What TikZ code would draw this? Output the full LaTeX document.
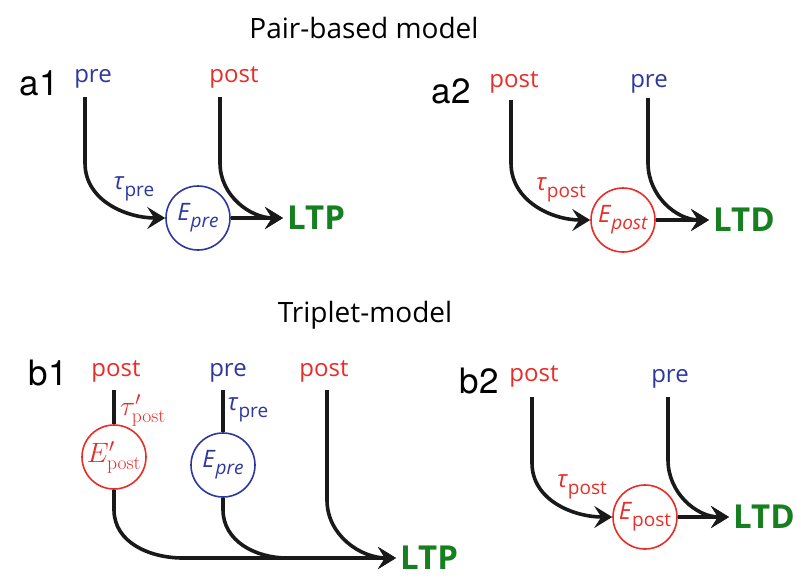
\RequirePackage{fix-cm}
\documentclass[tikz,border=0pt]{standalone}
\usepackage[no-math]{fontspec}
\setmainfont{Open Sans}
\newfontfamily\panelfont{TeX Gyre Heros}
\usetikzlibrary{arrows.meta}

\definecolor{preblue}{RGB}{46,55,160}
\definecolor{postred}{RGB}{232,45,40}
\definecolor{ltgreen}{RGB}{22,128,32}

\def\lblsize{\fontsize{24}{28}\selectfont}
\def\mathsize{\fontsize{28}{32}\selectfont}
\def\subsize{\fontsize{19}{22}\selectfont}
\newcommand{\lsub}[1]{\raisebox{-0.3em}{\subsize #1}}

\begin{document}
\begin{tikzpicture}[x=1pt, y=-1pt, >={Stealth[length=18pt,width=22pt,inset=7pt]}]
    \tikzstyle{title}=[inner sep=0pt, anchor=base, font=\fontsize{28}{32}\selectfont]
    \tikzstyle{panel}=[inner sep=0pt, anchor=base, font=\panelfont\fontsize{35}{40}\selectfont]
    \tikzstyle{spike}=[inner sep=0pt, anchor=base, font=\lblsize]
    \tikzstyle{pre spike}=[spike, text=preblue]
    \tikzstyle{post spike}=[spike, text=postred]
    \tikzstyle{trace}=[draw, circle, minimum size=64pt, inner sep=0pt, line width=1.6pt, font=\lblsize]
    \tikzstyle{pre trace}=[trace, draw=preblue, text=preblue]
    \tikzstyle{post trace}=[trace, draw=postred, text=postred]
    \tikzstyle{tau}=[inner sep=0pt, font=\lblsize]
    \tikzstyle{outcome}=[anchor=west, inner xsep=4pt, inner ysep=0pt, text=ltgreen, font=\bfseries\fontsize{33}{38}\selectfont]
    \tikzstyle{wire}=[draw=black!90, line width=3.6pt]
    \tikzstyle{flow}=[wire, ->]

    \useasboundingbox (0,0) rectangle (810,581);

    \node[title] (pair) at (364,38) {Pair-based model};
    \node[title] (triplet) at (365,322) {Triplet-model};

    \foreach \name/\x/\y in {a1/39/95, a2/451/103, b1/48/385, b2/479/393}
        \node[panel] (lab-\name) at (\x,\y) {\name};

    % a1
    \node[pre spike] (preA1) at (93,82) {pre};
    \node[post spike] (postA1) at (234,82) {post};
    \node[pre trace] (EA1) at (198,218) {\textit{E}\lsub{\textit{pre}}};
    \node[tau, text=preblue] (tauA1) at (134,189) {\textit{τ}\lsub{pre}};
    \node[outcome] (ltpA1) at (283,218) {LTP};
    \coordinate (sA1pre) at (85,97);
    \coordinate (sA1post) at (220,97);
    \draw[flow] (sA1pre) -- ++(0,66) to[out=-90,in=180] (EA1.west);
    \draw[flow] (sA1post) -- ++(0,66) to[out=-90,in=180] (ltpA1.west);
    \draw[flow] (EA1.east) -- (ltpA1.west);

    % a2
    \node[post spike] (postA2) at (514,87) {post};
    \node[pre spike] (preA2) at (649,87) {pre};
    \node[post trace] (EA2) at (623,220) {\textit{E}\lsub{\textit{post}}};
    \node[tau, text=postred] (tauA2) at (561,190) {\textit{τ}\lsub{post}};
    \node[outcome] (ltdA2) at (709,220) {LTD};
    \coordinate (sA2post) at (511,100);
    \coordinate (sA2pre) at (648,98);
    \draw[flow] (sA2post) -- ++(0,63) to[out=-90,in=180] (EA2.west);
    \draw[flow] (sA2pre) -- ++(0,65) to[out=-90,in=180] (ltdA2.west);
    \draw[flow] (EA2.east) -- (ltdA2.west);

    % b1
    \node[post spike] (postB1a) at (116,376) {post};
    \node[pre spike] (preB1) at (228,376) {pre};
    \node[post spike] (postB1b) at (324,376) {post};
    \node[post trace, font=\mathsize] (EB1a) at (114,457) {$E'_{\mathrm{post}}$};
    \node[pre trace] (EB1b) at (223,465) {\textit{E}\lsub{\textit{pre}}};
    \node[tau, text=postred, font=\mathsize] (tauB1a) at (143,410) {$\tau'_{\mathrm{post}}$};
    \node[tau, text=preblue] (tauB1b) at (248,410) {\textit{τ}\lsub{pre}};
    \node[outcome] (ltpB1) at (396,558) {LTP};
    \coordinate (sB1a) at (114,390);
    \coordinate (sB1b) at (223,390);
    \coordinate (sB1c) at (327,390);
    \coordinate (jB1a) at (183,558);
    \coordinate (jB1b) at (287,558);
    \draw[wire] (sB1a) -- (EB1a);
    \draw[wire] (sB1b) -- (EB1b);
    \draw[flow] (EB1a.south) -- ++(0,20) to[out=-90,in=180] (jB1a) -- (ltpB1.west);
    \draw[wire] (EB1b.south) -- ++(0,12) to[out=-90,in=180] (jB1b);
    \draw[flow] (sB1c) -- ++(0,110) to[out=-90,in=180] (ltpB1.west);

    % b2
    \node[post spike] (postB2) at (534,381) {post};
    \node[pre spike] (preB2) at (670,382) {pre};
    \node[post trace] (EB2) at (645,517) {\textit{E}\lsub{post}};
    \node[tau, text=postred] (tauB2) at (582,487) {\textit{τ}\lsub{post}};
    \node[outcome] (ltdB2) at (729,517) {LTD};
    \coordinate (sB2post) at (532,397);
    \coordinate (sB2pre) at (668,397);
    \draw[flow] (sB2post) -- ++(0,66) to[out=-90,in=180] (EB2.west);
    \draw[flow] (sB2pre) -- ++(0,63) to[out=-90,in=180] (ltdB2.west);
    \draw[flow] (EB2.east) -- (ltdB2.west);
\end{tikzpicture}
\end{document}
